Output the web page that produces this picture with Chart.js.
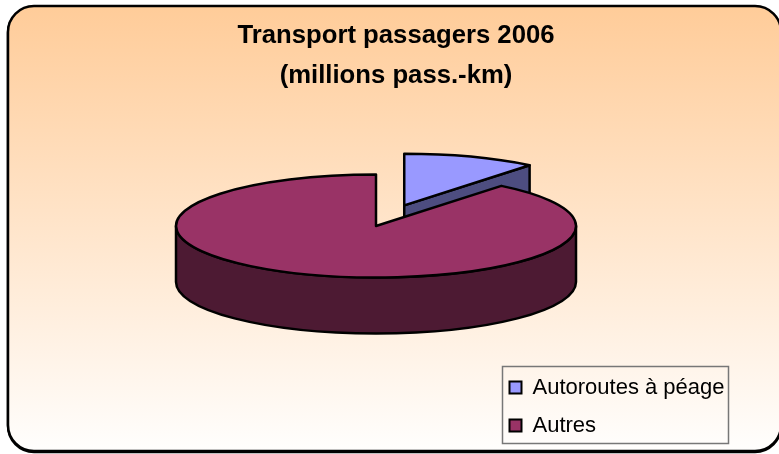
<!DOCTYPE html>
<html lang="fr">
<head>
<meta charset="utf-8">
<title>Transport passagers 2006</title>
<style>
	html, body { margin: 0; padding: 0; background: #fff; }
	canvas { display: block; }
</style>
<script src="https://cdn.jsdelivr.net/npm/chart.js@4"></script>
</head>
<body>
<canvas id="chart" width="779" height="454"></canvas>
<script>
const titleLines = ['Transport passagers 2006', '(millions pass.-km)']
const categories = ['Autoroutes à péage', 'Autres']
const passengerKm = [91000, 753000]
const topColors = ['#9999FF', '#993366']
const sideColors = ['#4D4D80', '#4D1A33']

// hauteur de l'ellipse par rapport au rayon, epaisseur du camembert
const squash = 0.2575
const depth = 56
const pieRadius = 200
// part détachée: décalage le long de l'angle moyen
const explode = [85, 0]

function slicePath(ctx, a, ox, oy) {
	ctx.beginPath()
	ctx.moveTo(a.x + ox, a.y + oy)
	ctx.ellipse(a.x + ox, a.y + oy, a.outerRadius, a.outerRadius * squash, 0, a.startAngle, a.endAngle)
	ctx.closePath()
}

function sliceOffset(a, i) {
	const mid = (a.startAngle + a.endAngle) / 2
	return [Math.cos(mid) * explode[i], Math.sin(mid) * explode[i] * squash]
}

const pie3d = {
	id: 'pie3d',
	afterLayout(chart) {
		chart.titleBlock.left += 40
		const legend = chart.legend
		legend.left = 493.5
		legend.right = 728
		legend.top = 360.5
		// large, sinon la légende passe sur une 2e colonne
		legend.bottom = 500
	},
	beforeDraw(chart) {
		const ctx = chart.ctx
		const grad = ctx.createLinearGradient(0, 6, 0, 451)
		grad.addColorStop(0, '#FFCC99')
		grad.addColorStop(1, '#FFFEFD')
		ctx.save()
		ctx.strokeStyle = '#000'
		// bord du bas plus épais
		ctx.lineWidth = 2.5
		ctx.beginPath()
		ctx.roundRect(8, 7, 773, 445, 26)
		ctx.stroke()
		ctx.beginPath()
		ctx.roundRect(8, 6, 773, 445, 26)
		ctx.fillStyle = grad
		ctx.fill()
		ctx.stroke()
		ctx.lineWidth = 1.5
		ctx.strokeStyle = '#777'
		ctx.strokeRect(502.5, 366.5, 226, 77)
		ctx.restore()
	},
	beforeDatasetsDraw(chart) {
		const ctx = chart.ctx
		const arcs = chart.getDatasetMeta(0).data
		ctx.save()
		ctx.lineWidth = 2.5
		ctx.strokeStyle = '#000'
		ctx.lineJoin = 'round'

		// part détachée d'abord, elle passe derrière
		const small = arcs[0].getProps(['x', 'y', 'startAngle', 'endAngle', 'outerRadius'])
		const [sx, sy] = sliceOffset(small, 0)
		const cx = small.x + sx
		const cy = small.y + sy
		const ex = cx + Math.cos(small.endAngle) * small.outerRadius
		const ey = cy + Math.sin(small.endAngle) * small.outerRadius * squash
		ctx.beginPath()
		ctx.moveTo(cx, cy)
		ctx.lineTo(ex, ey)
		ctx.lineTo(ex, ey + depth)
		ctx.lineTo(cx, cy + depth)
		ctx.closePath()
		ctx.fillStyle = sideColors[0]
		ctx.fill()
		ctx.stroke()
		slicePath(ctx, small, sx, sy)
		ctx.fillStyle = topColors[0]
		ctx.fill()
		ctx.stroke()

		// la grande part: flanc avant puis dessus
		const big = arcs[1].getProps(['x', 'y', 'startAngle', 'endAngle', 'outerRadius'])
		const ry = big.outerRadius * squash
		ctx.beginPath()
		ctx.ellipse(big.x, big.y, big.outerRadius, ry, 0, 0, Math.PI)
		ctx.lineTo(big.x - big.outerRadius, big.y + depth)
		ctx.ellipse(big.x, big.y + depth, big.outerRadius, ry, 0, Math.PI, 0, true)
		ctx.closePath()
		ctx.fillStyle = sideColors[1]
		ctx.fill()
		ctx.stroke()
		slicePath(ctx, big, 0, 0)
		ctx.fillStyle = topColors[1]
		ctx.fill()
		ctx.stroke()

		ctx.restore()
		return false
	},
}

new Chart(document.getElementById('chart'), {
	type: 'pie',
	data: {
		labels: categories,
		datasets: [{
			data: passengerKm,
			backgroundColor: topColors,
			borderColor: '#000',
			borderWidth: 2,
			radius: pieRadius,
		}],
	},
	options: {
		responsive: false,
		animation: false,
		layout: { padding: { left: 0, right: 27, top: 0, bottom: 98 } },
		plugins: {
			title: {
				display: true,
				text: titleLines,
				color: '#000',
				font: { family: '"Liberation Sans"', size: 25.7, weight: 'bold', lineHeight: 1.556 },
				padding: { top: 16, bottom: 0 },
			},
			legend: {
				position: 'chartArea',
				align: 'start',
				labels: {
					color: '#000',
					font: { family: '"Liberation Sans"', size: 22 },
					boxWidth: 12,
					boxHeight: 12,
					padding: 16,
				},
			},
			tooltip: { enabled: false },
		},
	},
	plugins: [pie3d],
})
</script>
</body>
</html>
